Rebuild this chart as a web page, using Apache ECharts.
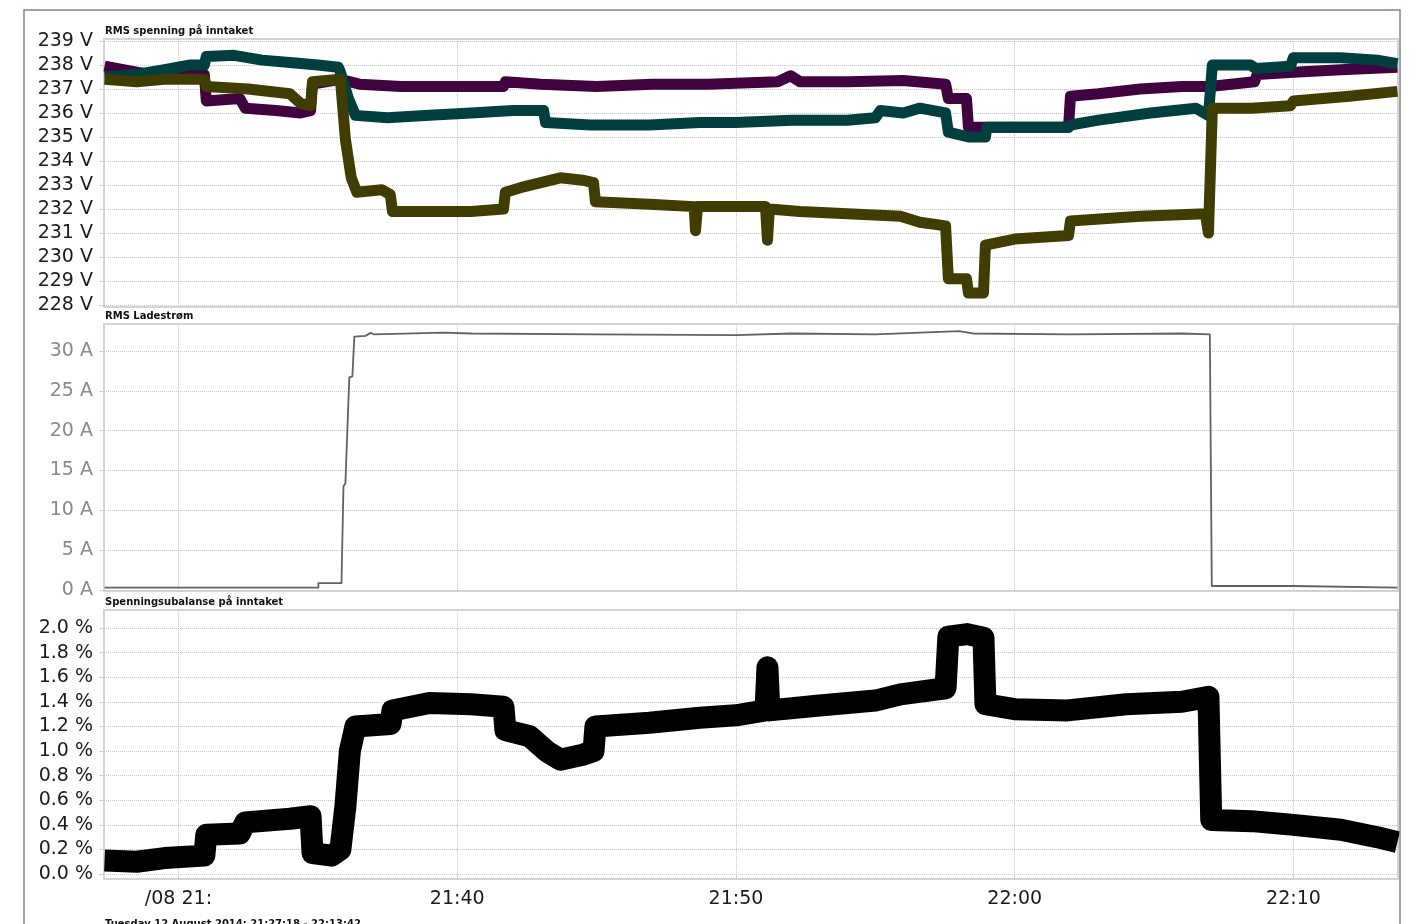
<!DOCTYPE html>
<html>
<head>
<meta charset="utf-8">
<script src="https://cdn.jsdelivr.net/npm/echarts@6/dist/echarts.min.js"></script>
<style>
html,body{margin:0;padding:0;background:#fff;}
#c{width:1418px;height:924px;}
</style>
</head>
<body>
<div id="c"></div>
<script>
// time in minutes after 21:00 (Tuesday 12 August 2014)
const timeTicks = [30, 40, 50, 60, 70];
const timeLabels = ['/08 21:', '21:40', '21:50', '22:00', '22:10'];
const voltTicks = [228,229,230,231,232,233,234,235,236,237,238,239];
const ampTicks = [0,5,10,15,20,25,30];
const pctTicks = [0,0.2,0.4,0.6,0.8,1.0,1.2,1.4,1.6,1.8,2.0];

// RMS voltage, phase 1 (purple)
const voltPurple = [
 [27.35,237.95],[28.5,237.7],[29.5,237.5],[30.4,237.6],[30.93,237.6],[31.0,236.5],[32.2,236.6],[32.4,236.2],
 [33.5,236.1],[34.38,236.0],[34.74,236.1],[34.81,237.2],[35.8,237.4],[36.5,237.2],[38.0,237.1],[40.0,237.1],
 [41.66,237.1],[41.73,237.3],[43.0,237.2],[45.0,237.1],[47.0,237.2],[49.0,237.2],[51.5,237.3],[51.96,237.55],
 [52.3,237.3],[54.0,237.3],[56.0,237.35],[57.52,237.2],[57.62,236.6],[58.27,236.6],[58.34,235.4],[60.0,235.4],
 [61.93,235.4],[62.0,236.7],[63.0,236.8],[64.5,237.0],[66.0,237.1],[67.0,237.1],[68.6,237.3],[68.7,237.6],
 [70.0,237.7],[71.7,237.8],[73.73,237.9]
];
// RMS voltage, phase 2 (teal)
const voltTeal = [
 [27.35,237.5],[28.5,237.6],[29.5,237.8],[30.43,238.0],[30.93,238.0],[31.0,238.35],[32.0,238.4],[33.0,238.2],
 [34.0,238.1],[35.0,238.0],[35.74,237.9],[35.81,237.7],[36.1,236.6],[36.35,235.9],[37.5,235.8],[39.0,235.9],
 [40.5,236.0],[42.0,236.1],[43.1,236.1],[43.17,235.6],[44.78,235.5],[46.9,235.5],[48.7,235.6],[50.0,235.6],
 [52.0,235.7],[54.0,235.7],[55.0,235.8],[55.18,236.1],[56.0,236.0],[56.6,236.2],[57.52,236.0],[57.62,235.2],
 [58.34,235.0],[58.95,235.0],[59.0,235.4],[60.0,235.4],[61.93,235.4],[62.0,235.5],[63.0,235.7],[64.87,236.0],
 [66.5,236.2],[66.95,235.9],[67.09,238.0],[68.46,238.0],[68.64,237.85],[69.89,237.95],[70.0,238.3],[71.7,238.3],
 [73.0,238.2],[73.73,238.05]
];
// RMS voltage, phase 3 (olive)
const voltOlive = [
 [27.35,237.4],[28.5,237.3],[29.5,237.4],[30.93,237.4],[31.0,237.1],[32.5,237.0],[34.0,236.8],[34.38,236.4],
 [34.74,236.3],[34.81,237.3],[35.81,237.4],[35.99,234.9],[36.2,233.3],[36.4,232.7],[37.3,232.8],[37.6,232.6],
 [37.68,231.9],[39.0,231.9],[40.5,231.9],[41.66,232.0],[41.73,232.7],[42.3,232.9],[43.7,233.3],[44.5,233.2],
 [44.89,233.1],[44.96,232.3],[46.9,232.2],[48.5,232.1],[48.55,231.1],[48.62,232.1],[51.06,232.1],[51.13,230.7],
 [51.2,232.0],[52.3,231.9],[54.0,231.8],[55.9,231.7],[56.6,231.45],[57.52,231.3],[57.62,229.1],[58.27,229.1],
 [58.34,228.5],[58.88,228.5],[58.95,230.5],[60.0,230.75],[61.93,230.9],[62.0,231.5],[64.5,231.7],[66.84,231.8],
 [66.95,231.0],[67.09,236.2],[68.5,236.2],[69.89,236.3],[70.0,236.5],[72.0,236.7],[73.73,236.9]
];
// RMS charging current (A)
const current = [
 [27.35,0.3],[35.02,0.3],[35.02,0.85],[35.85,0.85],[35.92,13.0],[35.99,13.4],[36.13,26.7],[36.24,26.8],
 [36.31,31.8],[36.71,31.9],[36.75,32.1],[36.9,32.3],[37.0,32.1],[39.5,32.3],[40.5,32.2],[45.0,32.1],
 [50.0,32.0],[52.0,32.2],[55.0,32.1],[58.0,32.5],[58.5,32.2],[62.0,32.1],[66.0,32.2],[67.0,32.1],
 [67.07,0.5],[70.0,0.5],[70.05,0.3],[73.73,0.3]
];
// Voltage imbalance (%)
const imbalance = [
 [27.35,0.11],[28.5,0.10],[29.5,0.13],[30.93,0.15],[31.0,0.32],[32.2,0.33],[32.4,0.42],[34.0,0.45],
 [34.74,0.47],[34.81,0.17],[35.5,0.15],[35.81,0.2],[35.99,0.55],[36.15,1.0],[36.35,1.2],[37.61,1.22],
 [37.68,1.33],[39.0,1.39],[40.5,1.38],[41.66,1.36],[41.73,1.17],[42.6,1.12],[43.2,1.0],[43.7,0.93],
 [44.5,0.97],[44.89,1.0],[44.96,1.2],[46.9,1.23],[48.7,1.27],[50.0,1.29],[51.06,1.33],[51.13,1.68],
 [51.2,1.33],[53.0,1.37],[55.0,1.41],[55.9,1.46],[57.52,1.51],[57.62,1.93],[58.3,1.95],[58.88,1.92],
 [58.95,1.38],[60.0,1.34],[61.9,1.33],[64.0,1.38],[66.0,1.40],[66.95,1.44],[67.05,0.44],[68.5,0.43],
 [70.0,0.40],[71.7,0.36],[73.0,0.30],[73.73,0.26]
];

const FONT = 'DejaVu Sans';
const chart = echarts.init(document.getElementById('c'), null, {renderer:'canvas'});

function xAxisCfg(idx, showLabels){
  return {
    type:'value', gridIndex:idx, min:27.33, max:73.75,
    axisLine:{show:false},
    axisTick:{show:showLabels, length:6, lineStyle:{color:'#cfcfcf'}, customValues:timeTicks},
    axisLabel:{show:showLabels, customValues:timeTicks, margin:11, fontFamily:FONT, fontSize:19, color:'#1a1a1a',
      formatter:function(v){ const i = timeTicks.indexOf(Math.round(v)); return i>=0 ? timeLabels[i] : ''; }},
    splitLine:{show:true, lineStyle:{color:'#c9c9c9', type:'dotted', width:1}}
  };
}
function yAxisCfg(idx, min, max, ticks, fmt, color){
  return {
    type:'value', gridIndex:idx, min:min, max:max,
    axisLine:{show:false},
    axisTick:{show:true, length:5, lineStyle:{color:'#cfcfcf'}, customValues:ticks},
    axisLabel:{customValues:ticks, margin:11, fontFamily:FONT, fontSize:19, color:color, formatter:fmt,
      padding:[4,0,0,0]},
    splitLine:{show:true, lineStyle:{color:'#c9c9c9', type:'dotted', width:1}}
  };
}
function lineSeries(xi, data, color, width){
  return {type:'line', xAxisIndex:xi, yAxisIndex:xi, data:data, showSymbol:false, symbol:'none',
    lineStyle:{color:color, width:width, join:'round'}, animation:false, silent:true};
}

const gridStyle = {show:true, borderColor:'#d4d4d4', borderWidth:2, backgroundColor:'transparent'};

chart.setOption({
  animation:false,
  backgroundColor:'#fff',
  grid:[
    Object.assign({left:104, right:20, top:39, height:268, containLabel:false}, gridStyle),
    Object.assign({left:104, right:20, top:324, height:267, containLabel:false}, gridStyle),
    Object.assign({left:104, right:20, top:610, height:269, containLabel:false}, gridStyle)
  ],
  xAxis:[xAxisCfg(0,false), xAxisCfg(1,false), xAxisCfg(2,true)],
  yAxis:[
    yAxisCfg(0, 227.92, 239.08, voltTicks, v => Math.round(v) + ' V', '#1a1a1a'),
    yAxisCfg(1, -0.13, 33.39, ampTicks, v => Math.round(v) + ' A', '#8a8a8a'),
    yAxisCfg(2, -0.04, 2.146, pctTicks, v => v.toFixed(1) + ' %', '#1a1a1a')
  ],
  series:[
    lineSeries(0, voltPurple, '#40033f', 11),
    lineSeries(0, voltTeal, '#013f3f', 11),
    lineSeries(0, voltOlive, '#403d02', 11),
    lineSeries(1, current, '#626262', 1.8),
    lineSeries(2, imbalance, '#000000', 22)
  ],
  graphic:[
    {type:'rect', shape:{x:24, y:10, width:1376, height:930}, style:{fill:'none', stroke:'#7b8794', lineWidth:1.5}, z:100},
    {type:'text', x:105, y:31, style:{text:'RMS spenning på inntaket', font:'bold 10px "DejaVu Sans"', fill:'#111', verticalAlign:'middle'}, z:100},
    {type:'text', x:105, y:316, style:{text:'RMS Ladestrøm', font:'bold 10px "DejaVu Sans"', fill:'#111', verticalAlign:'middle'}, z:100},
    {type:'text', x:105, y:602, style:{text:'Spenningsubalanse på inntaket', font:'bold 10px "DejaVu Sans"', fill:'#111', verticalAlign:'middle'}, z:100},
    {type:'text', x:105, y:924, style:{text:'Tuesday 12 August 2014: 21:27:18 - 22:13:42', font:'bold 10px "DejaVu Sans"', fill:'#111', verticalAlign:'middle'}, z:100}
  ]
});
</script>
</body>
</html>
